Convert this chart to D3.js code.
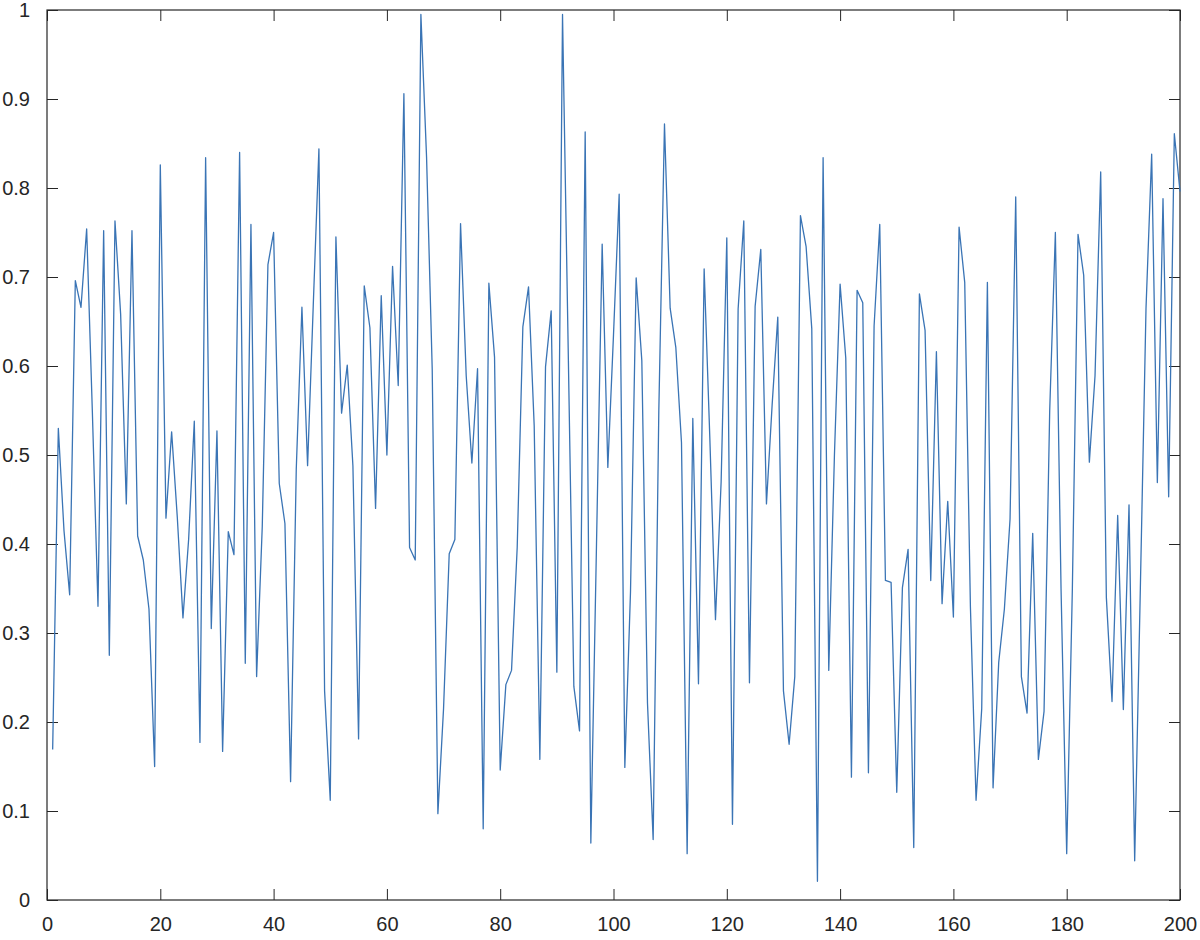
<!DOCTYPE html>
<html>
<head>
<meta charset="utf-8">
<script src="https://cdn.jsdelivr.net/npm/d3@7"></script>
<style>
  body { margin: 0; background: #fff; }
  text { font-family: "Liberation Sans", Arial, sans-serif; }
</style>
</head>
<body>
<svg id="chart" width="1200" height="940"></svg>
<script>
// values for x = 1..200
const values = [
  0.169, 0.530, 0.415, 0.343, 0.696, 0.666, 0.754, 0.550, 0.330, 0.752,
  0.275, 0.763, 0.658, 0.445, 0.752, 0.409, 0.382, 0.327, 0.150, 0.826,
  0.429, 0.526, 0.430, 0.317, 0.405, 0.538, 0.177, 0.834, 0.305, 0.527,
  0.167, 0.414, 0.388, 0.840, 0.266, 0.759, 0.251, 0.420, 0.714, 0.750,
  0.468, 0.423, 0.133, 0.484, 0.666, 0.488, 0.668, 0.844, 0.235, 0.112,
  0.745, 0.547, 0.601, 0.488, 0.181, 0.690, 0.643, 0.440, 0.679, 0.500,
  0.712, 0.578, 0.906, 0.396, 0.382, 0.995, 0.835, 0.596, 0.097, 0.215,
  0.389, 0.405, 0.760, 0.589, 0.491, 0.597, 0.080, 0.693, 0.610, 0.146,
  0.242, 0.258, 0.396, 0.644, 0.689, 0.533, 0.158, 0.599, 0.662, 0.256,
  0.995, 0.620, 0.240, 0.190, 0.863, 0.064, 0.400, 0.737, 0.486, 0.635,
  0.793, 0.149, 0.346, 0.699, 0.606, 0.221, 0.068, 0.550, 0.872, 0.665,
  0.621, 0.514, 0.052, 0.541, 0.243, 0.709, 0.520, 0.315, 0.470, 0.744,
  0.085, 0.664, 0.763, 0.244, 0.667, 0.731, 0.445, 0.556, 0.655, 0.235,
  0.175, 0.251, 0.769, 0.734, 0.642, 0.021, 0.834, 0.258, 0.500, 0.692,
  0.609, 0.138, 0.685, 0.671, 0.143, 0.645, 0.759, 0.359, 0.357, 0.121,
  0.351, 0.394, 0.059, 0.681, 0.640, 0.359, 0.616, 0.333, 0.448, 0.318,
  0.756, 0.694, 0.330, 0.112, 0.215, 0.694, 0.126, 0.267, 0.327, 0.428,
  0.790, 0.251, 0.210, 0.412, 0.158, 0.212, 0.550, 0.750, 0.350, 0.052,
  0.350, 0.748, 0.702, 0.492, 0.589, 0.818, 0.340, 0.223, 0.432, 0.214,
  0.444, 0.044, 0.350, 0.665, 0.838, 0.469, 0.788, 0.453, 0.861, 0.796
];
const xTicks = [0, 20, 40, 60, 80, 100, 120, 140, 160, 180, 200];
const yTicks = [0, 0.1, 0.2, 0.3, 0.4, 0.5, 0.6, 0.7, 0.8, 0.9, 1];

const plotL = 47, plotR = 1180, plotT = 10, plotB = 900;
const svg = d3.select('#chart');
const x = d3.scaleLinear().domain([0, 200]).range([plotL, plotR]);
const y = d3.scaleLinear().domain([0, 1]).range([plotB, plotT]);
const axisColor = '#262626';

const styleAxis = g => {
  g.select('.domain').remove();
  g.selectAll('.tick line').attr('stroke', axisColor);
  g.selectAll('.tick text').attr('fill', axisColor).style('font-size', '20px');
};

svg.append('g').attr('transform', `translate(0,${plotB})`)
  .call(d3.axisBottom(x).tickValues(xTicks).tickSizeInner(-11).tickPadding(17).tickFormat(d3.format('d')))
  .call(styleAxis);
svg.append('g').attr('transform', `translate(0,${plotT})`)
  .call(d3.axisTop(x).tickValues(xTicks).tickSizeInner(-11).tickFormat(''))
  .call(styleAxis);
svg.append('g').attr('transform', `translate(${plotL},0)`)
  .call(d3.axisLeft(y).tickValues(yTicks).tickSizeInner(-11).tickPadding(17).tickFormat(d => String(+d.toFixed(1))))
  .call(styleAxis);
svg.append('g').attr('transform', `translate(${plotR},0)`)
  .call(d3.axisRight(y).tickValues(yTicks).tickSizeInner(-11).tickFormat(''))
  .call(styleAxis);

svg.append('rect')
  .attr('x', plotL).attr('y', plotT)
  .attr('width', plotR - plotL).attr('height', plotB - plotT)
  .attr('fill', 'none').attr('stroke', axisColor).attr('stroke-width', 1.2);

const line = d3.line().x((d, i) => x(i + 1)).y(d => y(d));
svg.append('path')
  .datum(values)
  .attr('d', line)
  .attr('fill', 'none')
  .attr('stroke', '#3a74b5')
  .attr('stroke-width', 1.3)
  .attr('stroke-linejoin', 'round');
</script>
</body>
</html>
